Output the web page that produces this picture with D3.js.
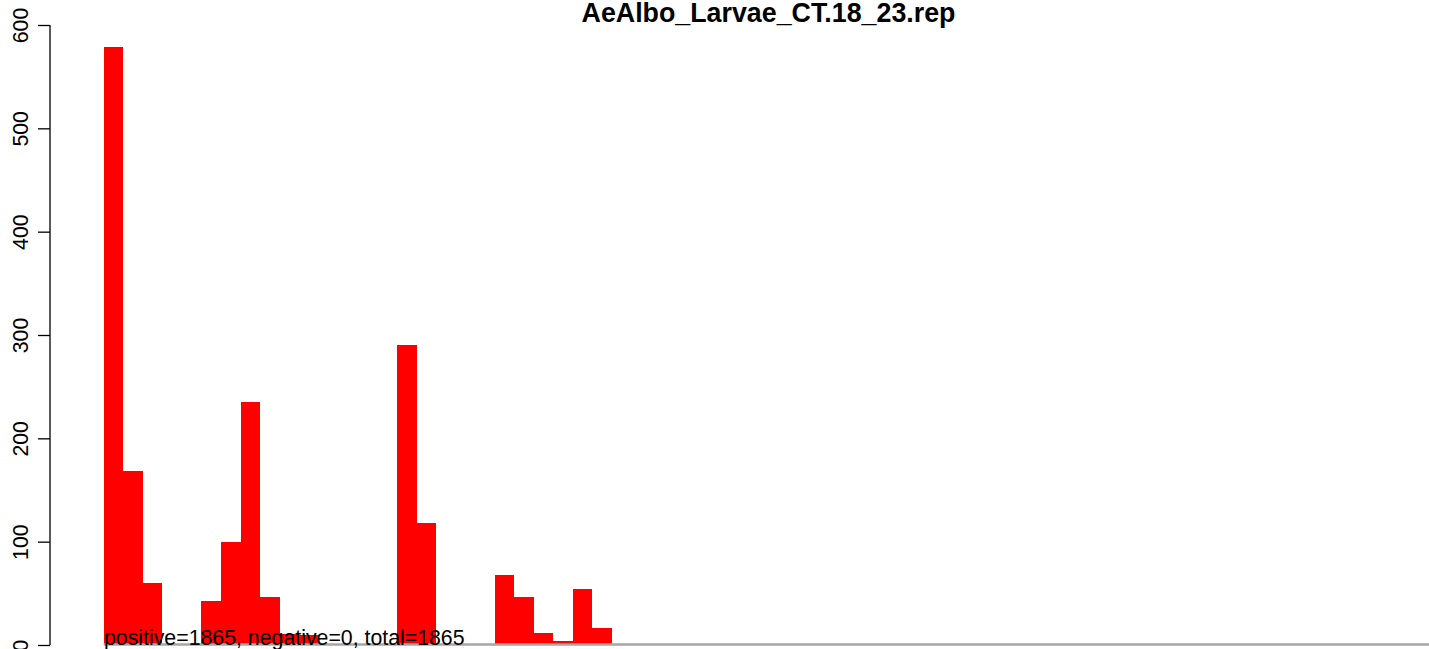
<!DOCTYPE html>
<html>
<head>
<meta charset="utf-8">
<script src="https://cdn.jsdelivr.net/npm/d3@7"></script>
<style>
  html, body { margin: 0; padding: 0; background: #fff; }
  svg { display: block; font-family: "Liberation Sans", Arial, sans-serif; }
</style>
</head>
<body>
<svg id="chart"></svg>
<script>
const width = 1429;
const height = 649;

const title = "AeAlbo_Larvae_CT.18_23.rep";
const summary = "positive=1865, negative=0, total=1865";

// counts per bin, remaining bins are empty
const binCounts = [579, 168, 60, 1, 1, 43, 100, 235, 46, 11, 10, 0, 0, 0, 0,
                   290, 118, 1, 1, 1, 68, 46, 12, 4, 54, 16];
const totalBins = 68;
const yTicks = [0, 100, 200, 300, 400, 500, 600];

const svg = d3.select("#chart")
    .attr("width", width)
    .attr("height", height);

const x = d3.scaleLinear()
    .domain([0, totalBins])
    .range([103.7, 103.7 + totalBins * 19.55]);

const y = d3.scaleLinear()
    .domain([0, 600])
    .range([645, 25]);

// bars
svg.append("g")
    .selectAll("rect")
    .data(binCounts)
    .enter()
    .append("rect")
    .attr("x", (d, i) => x(i))
    .attr("width", (d, i) => x(i + 1) - x(i))
    .attr("y", d => y(d))
    .attr("height", d => y(0) - y(d))
    .attr("fill", "#ff0000")
    .attr("shape-rendering", "crispEdges");

// grey baseline over the bins
svg.append("line")
    .attr("x1", x(0))
    .attr("x2", x(totalBins))
    .attr("y1", y(0) - 0.5)
    .attr("y2", y(0) - 0.5)
    .attr("stroke", "#a6a6a6")
    .attr("stroke-width", 2.3);

// y axis
const yAxis = d3.axisLeft(y)
    .tickValues(yTicks)
    .tickSize(12)
    .tickPadding(10)
    .tickFormat(d3.format("d"));

const gy = svg.append("g")
    .attr("transform", "translate(50,0)")
    .call(yAxis);

gy.select(".domain")
    .attr("d", `M0,${y(0)}V${y(600)}`)
    .attr("stroke", "#000")
    .attr("stroke-width", 1.3);
gy.selectAll(".tick line")
    .attr("stroke", "#000")
    .attr("stroke-width", 1.3);
gy.selectAll(".tick text")
    .attr("x", null)
    .attr("dy", null)
    .attr("text-anchor", "middle")
    .attr("transform", "translate(-22,0) rotate(-90)")
    .style("font-size", "21.3px")
    .style("font-family", "'Liberation Sans', Arial, sans-serif")
    .attr("fill", "#000");

// title
svg.append("text")
    .attr("x", 768.5)
    .attr("y", 22)
    .attr("text-anchor", "middle")
    .style("font-size", "26.8px")
    .style("font-weight", "bold")
    .text(title);

// summary text
svg.append("text")
    .attr("x", 104)
    .attr("y", 645)
    .style("font-size", "21.3px")
    .attr("fill", "#000")
    .text(summary);
</script>
</body>
</html>
